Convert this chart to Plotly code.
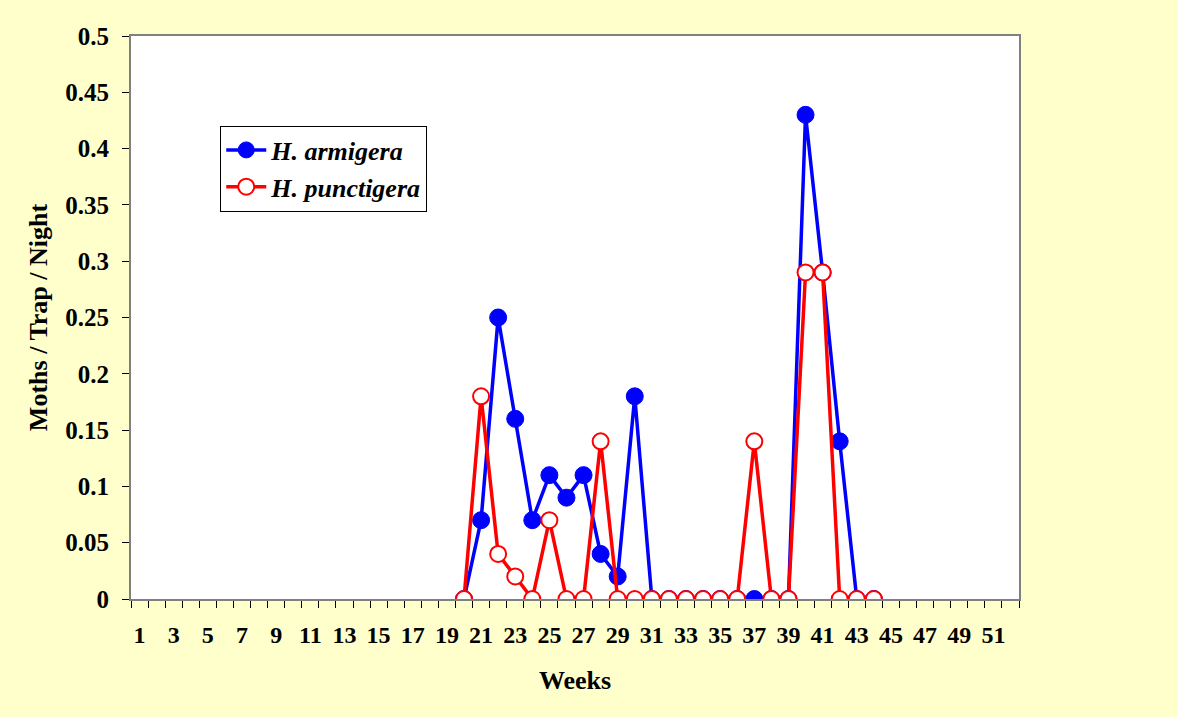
import plotly.graph_objects as go

# Weekly light-trap catches (moths per trap per night)
weeks = list(range(20, 45))
armigera = [0, 0.07, 0.25, 0.16, 0.07, 0.11, 0.09, 0.11, 0.04, 0.02, 0.18, 0, 0, 0,
            0, 0, 0, 0, 0, 0, 0.43, 0.29, 0.14, 0, 0]
punctigera = [0, 0.18, 0.04, 0.02, 0, 0.07, 0, 0, 0.14, 0, 0, 0, 0, 0,
              0, 0, 0, 0.14, 0, 0, 0.29, 0.29, 0, 0, 0]

# Axis labelling
week_labels = list(range(1, 53, 2))
n_weeks = 52

FONT = "Liberation Serif, Times New Roman, serif"

fig = go.Figure()
fig.add_trace(go.Scatter(
    x=weeks, y=armigera, mode="lines+markers", name="<b><i>H. armigera</i></b>",
    line=dict(color="#0000FF", width=3.5),
    marker=dict(symbol="circle", size=17, color="#0000FF",
                line=dict(color="#0000FF", width=1)),
))
fig.add_trace(go.Scatter(
    x=weeks, y=punctigera, mode="lines+markers", name="<b><i>H. punctigera</i></b>",
    line=dict(color="#FF0000", width=3.5),
    marker=dict(symbol="circle", size=16, color="#FFFFFF",
                line=dict(color="#FF0000", width=2)),
))

fig.update_layout(
    width=1178, height=717,
    margin=dict(l=131, r=159, t=36, b=118),
    paper_bgcolor="#FFFFCC",
    plot_bgcolor="#FFFFFF",
    font=dict(family=FONT, color="#000000", size=24),
    showlegend=True,
    legend=dict(
        x=0.1005, y=0.841, xanchor="left", yanchor="top",
        bgcolor="#FFFFFF", bordercolor="#000000", borderwidth=1,
        font=dict(family=FONT, size=26, color="#000000"),
        itemwidth=40, tracegroupgap=0,
    ),
)

fig.update_xaxes(
    range=[0.5, n_weeks + 0.5],
    tickmode="array",
    tickvals=week_labels,
    ticktext=[f"<b>{w}</b>" for w in week_labels],
    ticks="", ticklabelstandoff=13,
    tickfont=dict(family=FONT, size=24),
    minor=dict(tick0=0.5, dtick=1, ticks="outside", ticklen=7,
               tickcolor="#000000", tickwidth=1, showgrid=False),
    showgrid=False, zeroline=False,
    showline=True, linecolor="#808080", linewidth=2, mirror=True,
    title=dict(text="<b>Weeks</b>", font=dict(family=FONT, size=26), standoff=24),
)
fig.update_yaxes(
    range=[0, 0.5], dtick=0.05, tick0=0,
    ticks="outside", ticklen=7, tickcolor="#000000", tickwidth=1,
    ticklabelstandoff=8,
    tickfont=dict(family=FONT, size=25, weight="bold"),
    showgrid=False, zeroline=False,
    showline=True, linecolor="#808080", linewidth=2, mirror=True,
    title=dict(text="<b>Moths / Trap / Night</b>", font=dict(family=FONT, size=26), standoff=10),
)

fig.write_html("out.html")
